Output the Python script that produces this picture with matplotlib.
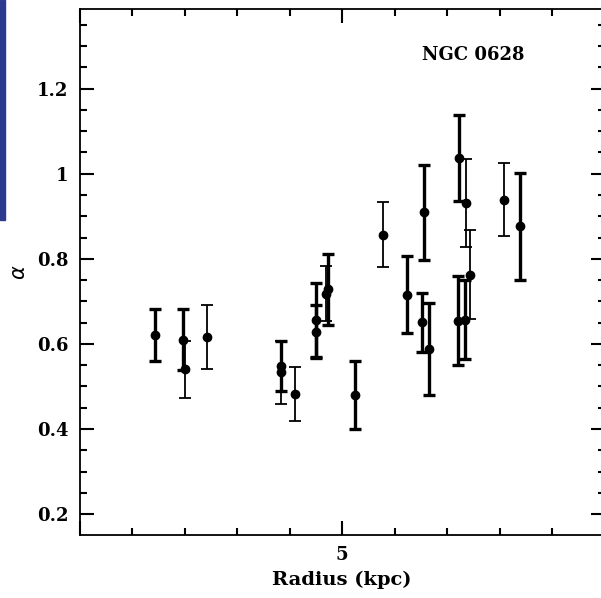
import matplotlib
matplotlib.use("Agg")
import matplotlib.pyplot as plt
from matplotlib.patches import Rectangle
from matplotlib.ticker import MultipleLocator, FixedLocator

# radius (kpc), alpha, error, thick bar?
radius = [1.44, 1.97, 2.00, 2.42, 3.84, 3.84, 4.10, 4.50, 4.50, 4.72, 4.70,
          5.25, 5.77, 6.23, 6.52, 6.66, 6.55, 7.23, 7.36, 7.44, 7.20, 7.34,
          8.07, 8.38]
alpha = [0.622, 0.610, 0.540, 0.616, 0.548, 0.533, 0.482, 0.657, 0.629, 0.728,
         0.718, 0.481, 0.857, 0.716, 0.651, 0.587, 0.909, 1.037, 0.931, 0.763,
         0.655, 0.657, 0.939, 0.876]
alpha_err = [0.061, 0.071, 0.066, 0.076, 0.059, 0.073, 0.063, 0.087, 0.063,
             0.083, 0.065, 0.080, 0.076, 0.091, 0.069, 0.108, 0.112, 0.100,
             0.104, 0.105, 0.104, 0.093, 0.085, 0.125]
thick = [1, 1, 0, 0, 1, 0, 0, 1, 1, 1, 0, 1, 0, 1, 1, 1, 1, 1, 0, 0, 1, 1, 0, 1]

W, H = 601, 598
fig = plt.figure(figsize=(W / 100, H / 100), dpi=100)
ax = fig.add_axes([79.5 / W, 1 - 535 / H, (605 - 79.5) / W, (535 - 9) / H])

font = dict(family="DejaVu Serif", weight="bold")

for x, y, e, t in zip(radius, alpha, alpha_err, thick):
    lw = 2.4 if t else 1.3
    ax.errorbar(x, y, yerr=e, fmt="o", color="black", ms=6,
                elinewidth=lw, capsize=4.5, capthick=lw)

ax.set_xlim(0, 10)
ax.set_ylim(0.151, 1.387)
ax.xaxis.set_major_locator(FixedLocator([0, 5, 10]))
ax.xaxis.set_minor_locator(MultipleLocator(1))
ax.yaxis.set_major_locator(MultipleLocator(0.2))
ax.yaxis.set_minor_locator(MultipleLocator(0.05))
ax.yaxis.set_major_formatter(plt.FuncFormatter(lambda v, p: f"{v:g}"))
ax.set_xticklabels(["", "5", ""])

ax.tick_params(which="both", direction="in", top=True, right=True,
               color="black", labelsize=13)
ax.tick_params(which="major", length=10, width=1.5, pad=8)
ax.tick_params(which="minor", length=5, width=1.5)
for lab in ax.get_xticklabels() + ax.get_yticklabels():
    lab.set_fontfamily("DejaVu Serif")
    lab.set_fontweight("bold")
for s in ax.spines.values():
    s.set_linewidth(1.3)

ax.set_xlabel("Radius (kpc)", fontsize=14, labelpad=5, **font)
ax.set_ylabel(r"$\alpha$", fontsize=15, labelpad=6)
fig.text(422 / W, 1 - 55 / H, "NGC 0628", fontsize=13, va="center", **font)

fig.patches.append(Rectangle((0, 1 - 220 / H), 5 / W, 220 / H,
                             transform=fig.transFigure, color="#2b3a8f"))

fig.savefig("out.png", dpi=100)
